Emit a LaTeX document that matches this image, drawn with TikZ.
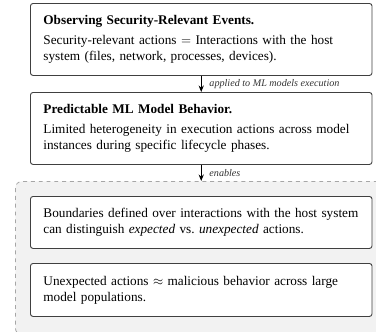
\documentclass[tikz,border=0pt]{standalone}
\usepackage{fontspec}
\setmainfont{Liberation Serif}
\usetikzlibrary{arrows.meta}
\hyphenpenalty=10000
\exhyphenpenalty=10000
\begin{document}
\begin{tikzpicture}[x=0.77pt,y=-0.77pt,
  card/.style={draw=black!75, line width=0.7pt, rounded corners=2pt, fill=white,
    anchor=north west, text width=243pt, inner xsep=10pt, inner ysep=0pt,
    align=left, font=\fontsize{10.2}{12.2}\selectfont},
  flow/.style={-{Stealth[length=5pt,width=4pt]}, line width=0.7pt, black},
  lbl/.style={font=\fontsize{7.8}{9}\selectfont\itshape, anchor=west, inner sep=0pt, text=black!80}]
\useasboundingbox (0,0) rectangle (376,331);
\begin{scope}
\clip (0,0) rectangle (376,331);
\node[draw=black!35, dashed, fill=black!5, rounded corners=5pt, line width=0.6pt,
  minimum width=380pt, minimum height=118pt, anchor=north west, inner sep=0pt] (grp) at (15,181) {};
\end{scope}
\node[card, minimum height=72*0.77pt] (b1) at (30,3)
  {\textbf{Observing Security-Relevant Events.}\\[3pt]
   Security-relevant actions $=$ Interactions with the host system (files, network, processes, devices).};
\node[card, minimum height=72*0.77pt] (b2) at (30,92)
  {\textbf{Predictable ML Model Behavior.}\\[3pt]
   Limited heterogeneity in execution actions across model instances during specific lifecycle phases.};
\node[card, minimum height=52*0.77pt] (b3) at (30,196)
  {Boundaries defined over interactions with the host system can distinguish \textit{expected} vs.\ \textit{unexpected} actions.};
\node[card, minimum height=53*0.77pt] (b4) at (30,263)
  {Unexpected actions $\approx$ malicious behavior across large model populations.};
\draw[flow] (b1.south) -- (b2.north) node[lbl, midway, xshift=6pt] (l1) {applied to ML models execution};
\draw[flow] (b2.south) -- (grp.north -| b2.south) node[lbl, midway, xshift=6pt] (l2) {enables};
\end{tikzpicture}
\end{document}
